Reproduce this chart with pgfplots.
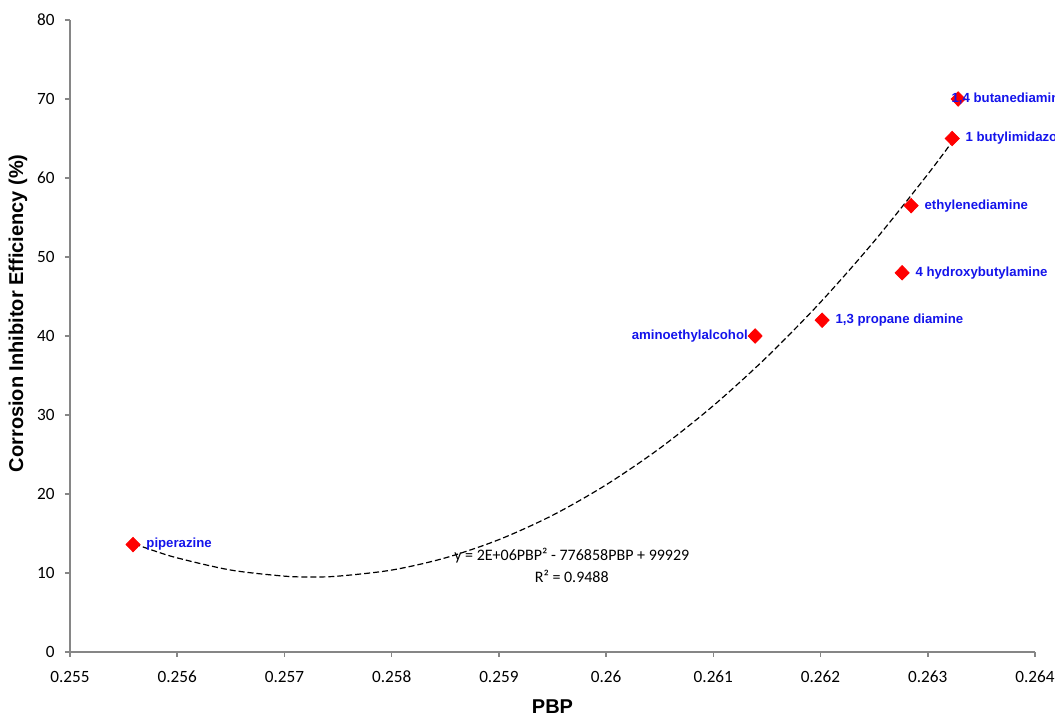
\documentclass[border=0pt]{standalone}
\usepackage{pgfplots}
\pgfplotsset{compat=1.18}
\usepackage{pgfplotstable}
\usepackage{fontspec}
\setmainfont{Carlito}
\newfontfamily\arialbold{Liberation Sans}
\definecolor{axisgray}{RGB}{134,134,134}
\definecolor{lblblue}{RGB}{20,20,235}

% points: PBP, efficiency, label
\pgfplotstableread{
x         y     label
0.255588  13.6  piperazine
0.262015  42.0  {1,3 propane diamine}
0.262761  48.0  {4 hydroxybutylamine}
0.262845  56.5  ethylenediamine
0.263228  65.0  {1 butylimidazole}
}\rightpts
\pgfplotstableread{
x         y     label
0.263284  70.0  {1,4 butanediamine}
}\toppt
\pgfplotstableread{
x         y     label
0.261390  40.0  aminoethylalcohol
}\leftpts

% polynomial trendline
\pgfplotstableread{
x        y
0.2556   13.70
0.25575  12.97
0.256    11.91
0.2565   10.37
0.257    9.60
0.25725  9.50
0.2575   9.60
0.258    10.37
0.2585   11.91
0.259    14.22
0.2595   17.30
0.260    21.16
0.2605   25.78
0.261    31.18
0.2615   37.35
0.262    44.28
0.2625   51.99
0.263    60.47
0.26325  65.00
}\trend

\pgfplotsset{
  pts/.style={only marks, mark=diamond*, mark size=3.6pt,
    mark options={fill=red, draw=red, xscale=1.3},
    nodes near coords, point meta=explicit symbolic},
  lbl/.style 2 args={every node near coord/.append style={anchor=#1, inner sep=0pt,
    xshift=#2, yshift=0pt, text=lblblue,
    font=\arialbold\bfseries\fontsize{6.6}{8}\selectfont}},
}

\begin{document}
\begin{tikzpicture}
\begin{axis}[
  scale only axis,
  width=482.5pt, height=316pt,
  xmin=0.255, xmax=0.264, ymin=0, ymax=80,
  xtick={0.255,0.256,...,0.2645},
  ytick={0,10,...,80},
  scaled x ticks=false,
  axis x line*=bottom, axis y line*=left,
  axis line style={axisgray, line width=0.8pt},
  every tick/.style={axisgray, line width=0.8pt},
  tick align=outside, major tick length=2.5pt,
  x tick label style={/pgf/number format/fixed, /pgf/number format/precision=3},
  /pgf/number format/assume math mode=true,
  tick label style={font=\fontsize{8.6}{10}\selectfont, text=black},
  xticklabel style={anchor=center, yshift=-10pt},
  yticklabel style={anchor=east, inner sep=0pt, xshift=-5pt},
  xlabel={PBP}, ylabel={Corrosion Inhibitor Efficiency (\%)},
  label style={font=\arialbold\bfseries\fontsize{10}{12}\selectfont},
  xlabel style={at={(axis description cs:0.5,-0.087)}, anchor=center},
  ylabel style={at={(axis description cs:-0.054,0.536)}, anchor=center},
  clip=false,
]
\addplot[black, line width=0.6pt, dash pattern=on 3pt off 1.5pt, smooth] table {\trend};
\addplot[pts, lbl={west}{6.5pt}] table[x=x, y=y, meta=label] {\rightpts};
\addplot[pts, lbl={west}{-3.5pt}] table[x=x, y=y, meta=label] {\toppt};
\addplot[pts, lbl={east}{-3.5pt}] table[x=x, y=y, meta=label] {\leftpts};
\node[align=center, font=\fontsize{8}{10}\selectfont, inner sep=0pt] at (axis cs:0.25968,10.9)
  {y = 2E+06PBP² - 776858PBP + 99929\\[1pt] R² = 0.9488};
\coordinate (O) at (axis cs:0.255,0);
\end{axis}
\pgfresetboundingbox
\path[use as bounding box] ([xshift=-35pt,yshift=-34.5pt]O) rectangle ([xshift=492.5pt,yshift=326pt]O);
\end{tikzpicture}
\end{document}
